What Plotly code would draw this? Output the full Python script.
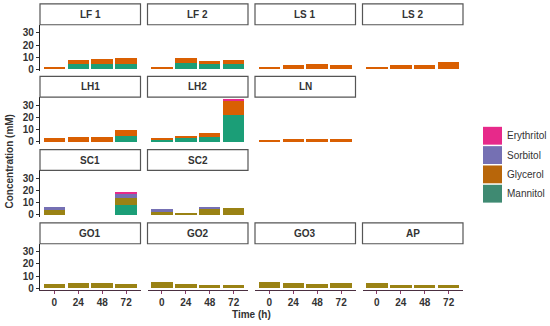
import plotly.graph_objects as go

# ---------------- data ----------------
panels = ["LF 1", "LF 2", "LS 1", "LS 2",
          "LH1", "LH2", "LN",
          "SC1", "SC2",
          "GO1", "GO2", "GO3", "AP"]
times = ["0", "24", "48", "72"]

mannitol = [
    [0, 4.7, 4.7, 4.2],   # LF 1
    [0, 5.3, 4.2, 3.9],   # LF 2
    [0, 0, 0, 0],         # LS 1
    [0, 0, 0, 0],         # LS 2
    [0, 0, 0, 4.9],       # LH1
    [1.2, 2.7, 4.0, 22.2],  # LH2
    [0, 0, 0, 0],         # LN
    [0, 0, 0, 7.9],       # SC1
    [0, 0, 0, 0],         # SC2
    [0, 0, 0, 0],         # GO1
    [0, 0, 0, 0],         # GO2
    [0, 0, 0, 0],         # GO3
    [0, 0, 0, 0],         # AP
]
glycerol = [
    [2.0, 3.2, 3.7, 5.3],
    [2.0, 3.7, 2.6, 3.5],
    [1.8, 3.4, 4.7, 3.4],
    [2.0, 3.4, 3.6, 6.0],
    [2.7, 4.0, 3.5, 4.3],
    [1.8, 2.2, 3.3, 11.7],
    [1.5, 2.5, 2.2, 2.0],
    [3.8, 0, 0, 6.3],
    [2.7, 1.0, 5.0, 5.4],
    [3.5, 4.5, 4.5, 3.5],
    [5.4, 3.5, 2.7, 2.7],
    [5.4, 4.3, 3.2, 4.3],
    [4.3, 2.7, 2.7, 2.7],
]
sorbitol = [
    [0, 0, 0, 0], [0, 0, 0, 0], [0, 0, 0, 0], [0, 0, 0, 0],
    [0, 0, 0, 0], [0, 0, 0, 0], [0, 0, 0, 0],
    [2.7, 0, 0, 2.7],
    [2.5, 0, 1.0, 0],
    [0, 0, 0, 0], [0, 0, 0, 0], [0, 0, 0, 0], [0, 0, 0, 0],
]
erythritol = [
    [0, 0, 0, 0], [0, 0, 0, 0], [0, 0, 0, 0], [0, 0, 0, 0],
    [0, 0, 0, 0], [0, 0, 0, 1.0], [0, 0, 0, 0],
    [0, 0, 0, 2.4],
    [0, 0, 0, 0],
    [0, 0, 0, 0], [0, 0, 0, 0], [0, 0, 0, 0], [0, 0, 0, 0],
]
y_ticks = [0, 10, 20, 30]
compounds = ["Erythritol", "Sorbitol", "Glycerol", "Mannitol"]

# ---------------- styles ----------------
C_ERY = "#e7298a"
C_SOR = "#7570b3"
C_GLY = "#d95f02"
C_GLY_OLIVE = "#9a8214"
C_MAN = "#1b9e77"
legend_colors = [C_ERY, C_SOR, "#b8660a", "#3f8a72"]
gly_panel_color = [C_GLY] * 7 + [C_GLY_OLIVE] * 6

grid_pos = [(0, 0), (0, 1), (0, 2), (0, 3),
            (1, 0), (1, 1), (1, 2),
            (2, 0), (2, 1),
            (3, 0), (3, 1), (3, 2), (3, 3)]

W, H = 550, 326
col_x0 = [40, 147.5, 255, 362.5]
col_w = 100.5
row_strip_top = [4, 77, 151, 225]
strip_h = 21
plot_h = 47
FONT = "Liberation Sans, Arial, sans-serif"
TXT = "#333333"


def px(x):
    return x / W


def py(y):
    return (H - y) / H


fig = go.Figure()
shapes = []
annotations = []

for i, name in enumerate(panels):
    r, c = grid_pos[i]
    n = i + 1
    xa = "x" if n == 1 else f"x{n}"
    ya = "y" if n == 1 else f"y{n}"
    series = [
        ("Mannitol", mannitol[i], C_MAN),
        ("Glycerol", glycerol[i], gly_panel_color[i]),
        ("Sorbitol", sorbitol[i], C_SOR),
        ("Erythritol", erythritol[i], C_ERY),
    ]
    for sname, vals, col in series:
        fig.add_trace(go.Bar(x=times, y=vals, name=sname, xaxis=xa, yaxis=ya,
                             marker=dict(color=col, line=dict(width=0)),
                             showlegend=False))
    x0 = col_x0[c]
    x1 = x0 + col_w
    st = row_strip_top[r]
    py0 = st + strip_h
    py1 = py0 + plot_h
    bottom_row = (r == 3)
    left_col = (c == 0)
    fig.layout[f"xaxis{'' if n == 1 else n}"] = dict(
        domain=[px(x0), px(x1)], anchor=ya, type="category",
        categoryorder="array", categoryarray=times,
        range=[-0.6, 3.6], showgrid=False, zeroline=False,
        showline=bottom_row, linecolor="#4a2f40", linewidth=1.2,
        ticks="outside" if bottom_row else "", ticklen=3, tickcolor="#8a3a6a",
        showticklabels=bottom_row,
        tickfont=dict(family=FONT, size=10, color=TXT, weight="bold"),
    )
    fig.layout[f"yaxis{'' if n == 1 else n}"] = dict(
        domain=[py(py1), py(py0)], anchor=xa,
        range=[-1.75, 36.75], showgrid=False, zeroline=False,
        showline=left_col, linecolor="#222222", linewidth=1.2,
        tickvals=y_ticks if left_col else [],
        ticks="outside" if left_col else "", ticklen=3, tickcolor="#333333",
        showticklabels=left_col,
        tickfont=dict(family=FONT, size=10, color=TXT, weight="bold"),
    )
    # facet strip
    shapes.append(dict(type="rect", xref="paper", yref="paper",
                       x0=px(x0), x1=px(x1),
                       y0=py(st + strip_h), y1=py(st),
                       fillcolor="white", line=dict(color="#555555", width=1.2)))
    annotations.append(dict(text=name, xref="paper", yref="paper",
                            x=px((x0 + x1) / 2), y=py(st + strip_h / 2),
                            showarrow=False, xanchor="center", yanchor="middle",
                            font=dict(family=FONT, size=10, color=TXT, weight="bold")))

# axis titles
annotations.append(dict(text="Concentration (mM)", xref="paper", yref="paper",
                        x=px(9), y=py(163), textangle=-90, showarrow=False,
                        xanchor="center", yanchor="middle",
                        font=dict(family=FONT, size=10, color=TXT, weight="bold")))
annotations.append(dict(text="Time (h)", xref="paper", yref="paper",
                        x=px(251), y=py(317), showarrow=False,
                        xanchor="center", yanchor="middle",
                        font=dict(family=FONT, size=10, color=TXT, weight="bold")))

# legend (drawn)
leg_x0, leg_w, leg_y0, leg_step, key_h = 483, 19, 128, 19.5, 18
for k, (lab, col) in enumerate(zip(compounds, legend_colors)):
    yt = leg_y0 + k * leg_step
    shapes.append(dict(type="rect", xref="paper", yref="paper",
                       x0=px(leg_x0), x1=px(leg_x0 + leg_w),
                       y0=py(yt + key_h), y1=py(yt),
                       fillcolor=col, line=dict(width=0)))
    annotations.append(dict(text=lab, xref="paper", yref="paper",
                            x=px(leg_x0 + leg_w + 3), y=py(yt + key_h / 2),
                            showarrow=False, xanchor="left", yanchor="middle",
                            font=dict(family=FONT, size=10, color=TXT)))

fig.update_layout(
    width=W, height=H, margin=dict(l=0, r=0, t=0, b=0),
    barmode="stack", bargap=0.1,
    paper_bgcolor="white", plot_bgcolor="white",
    shapes=shapes, annotations=annotations, showlegend=False,
)

fig.write_html("out.html",
               config={"displayModeBar": False},
               post_script="document.body.style.margin='0';document.body.style.overflow='hidden';")
